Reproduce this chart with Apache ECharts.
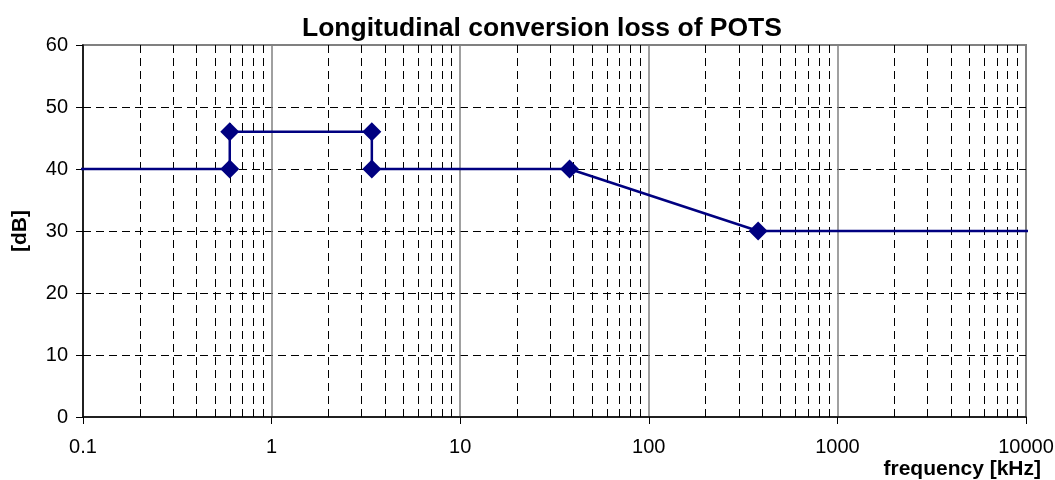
<!DOCTYPE html>
<html>
<head>
<meta charset="utf-8">
<script src="https://cdn.jsdelivr.net/npm/echarts@6/dist/echarts.min.js"></script>
<style>
  html, body { margin: 0; padding: 0; background: #fff; }
  #chart { width: 1055px; height: 480px; }
</style>
</head>
<body>
<div id="chart"></div>
<script>
// frequency [kHz] and loss [dB] of the POTS mask
var freq = [0.09, 0.6, 0.6, 3.4, 3.4, 38, 380, 11400];
var loss = [40, 40, 46, 46, 40, 40, 30, 30];
var markerShown = [false, true, true, true, true, true, true, false];

// decades and the minor steps inside each one (for the dashed grid)
var decades = [0.1, 1, 10, 100, 1000];
var minorSteps = [2, 3, 4, 5, 6, 7, 8, 9];

var chart = echarts.init(document.getElementById('chart'));

var lineData = [];
for (var i = 0; i < freq.length; i++) {
	var item = { value: [freq[i], loss[i]] };
	if (!markerShown[i]) item.symbol = 'none';
	lineData.push(item);
}

var minorLines = [];
decades.forEach(function (d) {
	minorSteps.forEach(function (m) {
		minorLines.push({ xAxis: +(d * m).toPrecision(6) });
	});
});

var font = 'Liberation Sans, Arial, sans-serif';

var option = {
	animation: false,
	title: {
		text: 'Longitudinal conversion loss of POTS',
		left: 297,
		top: 10,
		textStyle: { fontFamily: font, fontSize: 26.5, fontWeight: 'bold', color: '#000' }
	},
	grid: {
		left: 83, right: 29, top: 45, bottom: 63,
		outerBoundsMode: 'none',
		containLabel: false,
		show: true,
		borderColor: '#808080',
		borderWidth: 2,
		backgroundColor: 'transparent'
	},
	xAxis: {
		type: 'log',
		logBase: 10,
		min: 0.1,
		max: 10000,
		name: 'frequency [kHz]',
		nameLocation: 'end',
		nameGap: 15,
		nameTextStyle: {
			fontFamily: font, fontSize: 21, fontWeight: 'bold', color: '#000',
			align: 'right', verticalAlign: 'top', padding: [42, 0, 0, 0]
		},
		axisLine: { onZero: false, lineStyle: { color: '#000', width: 1.5 } },
		axisTick: { inside: false, length: 7, lineStyle: { color: '#000' } },
		axisLabel: {
			margin: 20,
			fontFamily: font, fontSize: 20, color: '#000',
			formatter: function (v) { return String(+(+v).toPrecision(6)); }
		},
		splitLine: {
			show: true,
			showMinLine: false,
			showMaxLine: false,
			lineStyle: { color: '#808080', width: 1.5, type: 'solid' }
		}
	},
	yAxis: {
		type: 'value',
		min: 0,
		max: 60,
		interval: 10,
		name: '[dB]',
		nameLocation: 'middle',
		nameGap: 52,
		nameTextStyle: { fontFamily: font, fontSize: 21, fontWeight: 'bold', color: '#000' },
		axisLine: { show: true, lineStyle: { color: '#000', width: 1.5 } },
		axisTick: { show: true, inside: false, length: 7, lineStyle: { color: '#000' } },
		axisLabel: { margin: 15, fontFamily: font, fontSize: 20, color: '#000' },
		splitLine: {
			show: true,
			showMinLine: false,
			showMaxLine: false,
			lineStyle: { color: '#000', width: 1, type: [8, 5] }
		}
	},
	series: [
		{
			// helper series: dashed minor grid at 2..9 of each decade
			type: 'line',
			data: [],
			silent: true,
			z: 1,
			markLine: {
				silent: true,
				symbol: 'none',
				animation: false,
				label: { show: false },
				lineStyle: { color: '#000', width: 1, type: [8, 5] },
				emphasis: { disabled: true },
				data: minorLines
			}
		},
		{
			name: 'POTS',
			type: 'line',
			data: lineData,
			clip: false,
			z: 5,
			symbol: 'diamond',
			symbolSize: 19,
			lineStyle: { color: '#000080', width: 2.5 },
			itemStyle: { color: '#000080' }
		}
	]
};

chart.setOption(option);
</script>
</body>
</html>
